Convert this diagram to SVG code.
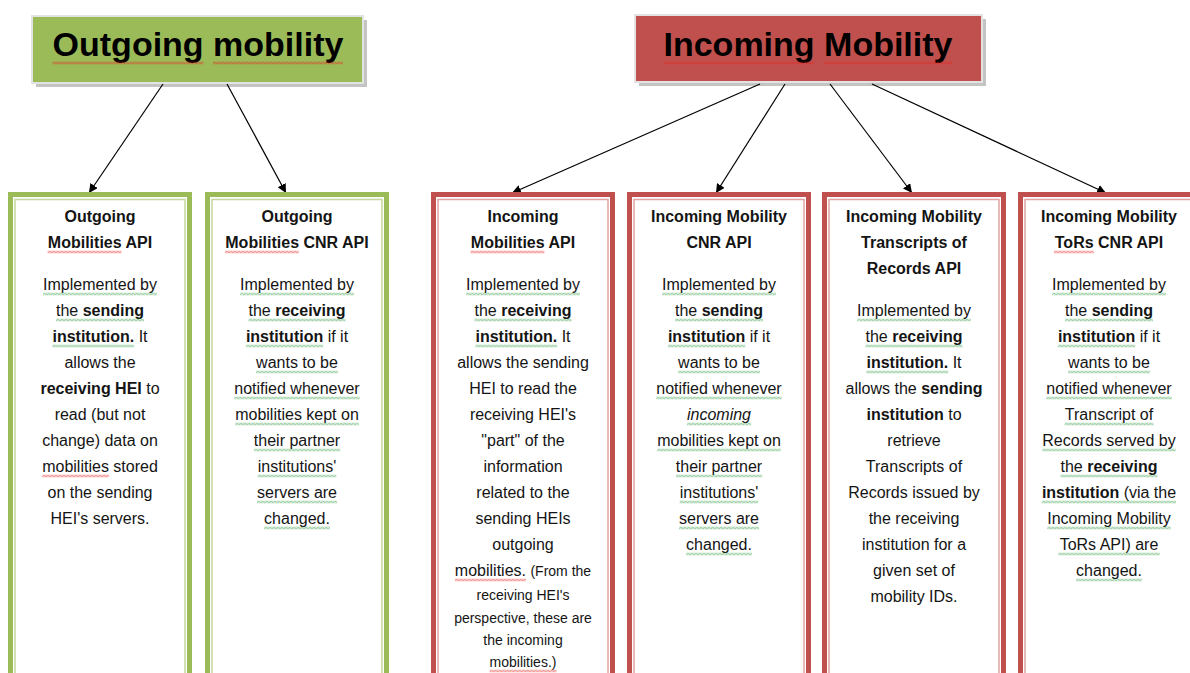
<svg xmlns="http://www.w3.org/2000/svg" width="1190" height="673" viewBox="0 0 1190 673">
<style>
.t{font-family:"Liberation Sans",Arial,sans-serif;font-size:16px;fill:#141414;text-anchor:middle}
.b{font-weight:bold}
.i{font-style:italic}
.s{font-size:14px}
.h{font-family:"Liberation Sans",Arial,sans-serif;font-size:34px;font-weight:bold;fill:#000;text-anchor:middle}
.go{fill:none;stroke:#9bbb59;stroke-width:5}
.gi{fill:none;stroke:#c3d69b;stroke-width:1.5}
.ro{fill:none;stroke:#c0504d;stroke-width:5}
.ri{fill:none;stroke:#e0a3a1;stroke-width:1.5}
.c{stroke:#000;stroke-width:1.2;fill:none;marker-end:url(#ah)}
.zr{fill:url(#pr)}
.zg{fill:url(#pg)}
</style>
<defs>
<marker id="ah" viewBox="0 0 10 10" refX="10" refY="5" markerWidth="9" markerHeight="9" markerUnits="userSpaceOnUse" orient="auto">
<path d="M0,0 L10,5 L0,10 z" fill="#000"/>
</marker>
<pattern id="pr" width="4" height="3" patternUnits="userSpaceOnUse">
<path d="M0,2.4 L2,0.6 L4,2.4" fill="none" stroke="#e8221e" stroke-width="0.9"/>
</pattern>
<pattern id="pg" width="4" height="3" patternUnits="userSpaceOnUse">
<path d="M0,2.4 L2,0.6 L4,2.4" fill="none" stroke="#3aa04a" stroke-width="0.9"/>
</pattern>
</defs>
<rect width="1190" height="673" fill="#fff"/>

<g id="hdr-outgoing">
<rect x="36" y="20" width="331" height="67" fill="#c4c4c4"/>
<rect x="32" y="16" width="331" height="67" fill="#9bbb59" stroke="#e3e3e3" stroke-width="2"/>
<text class="h" x="198" y="56">Outgoing mobility</text>
<rect class="zr" transform="translate(52.5,61.5)" width="151" height="3"/>
<rect class="zr" transform="translate(213,61.5)" width="130" height="3"/>
</g>
<g id="hdr-incoming">
<rect x="639" y="19" width="347" height="67" fill="#c4c4c4"/>
<rect x="635" y="15" width="347" height="67" fill="#c0504d" stroke="#e3e3e3" stroke-width="2"/>
<text class="h" x="808" y="56">Incoming Mobility</text>
<rect class="zr" transform="translate(663.5,61.5)" width="151" height="3"/>
<rect class="zr" transform="translate(824,61.5)" width="128" height="3"/>
</g>

<g id="connectors">
<line class="c" x1="163" y1="84" x2="89" y2="193"/>
<line class="c" x1="227" y1="84" x2="286" y2="193"/>
<line class="c" x1="760" y1="84" x2="512" y2="193"/>
<line class="c" x1="785" y1="84" x2="716" y2="193"/>
<line class="c" x1="830" y1="84" x2="912" y2="193"/>
<line class="c" x1="872" y1="84" x2="1106" y2="193"/>
</g>

<g id="box-outgoing-mobilities">
<rect class="go" x="10.5" y="194.5" width="179" height="600"/>
<rect class="gi" x="15" y="199.5" width="170" height="600"/>
<text class="t b" x="100" y="222">Outgoing</text>
<text class="t b" x="100" y="248">Mobilities API</text>
<text class="t" x="100" y="290">Implemented by</text>
<text class="t" x="100" y="316">the <tspan class="b">sending</tspan></text>
<text class="t" x="100" y="342"><tspan class="b">institution.</tspan> It</text>
<text class="t" x="100" y="368">allows the</text>
<text class="t" x="100" y="394"><tspan class="b">receiving HEI</tspan> to</text>
<text class="t" x="100" y="420">read (but not</text>
<text class="t" x="100" y="446">change) data on</text>
<text class="t" x="100" y="472">mobilities stored</text>
<text class="t" x="100" y="498">on the sending</text>
<text class="t" x="100" y="524">HEI's servers.</text>
<rect class="zr" transform="translate(47.6,250.5)" width="73.8" height="3"/>
<rect class="zg" transform="translate(43.1,292.5)" width="113.8" height="3"/>
<rect class="zg" transform="translate(56,318.5)" width="88" height="3"/>
<rect class="zg" transform="translate(52.4,344.5)" width="81.8" height="3"/>
<rect class="zr" transform="translate(42.2,474.5)" width="66.7" height="3"/>
</g>

<g id="box-outgoing-cnr">
<rect class="go" x="207.5" y="194.5" width="179" height="600"/>
<rect class="gi" x="212" y="199.5" width="170" height="600"/>
<text class="t b" x="297" y="222">Outgoing</text>
<text class="t b" x="297" y="248">Mobilities CNR API</text>
<text class="t" x="297" y="290">Implemented by</text>
<text class="t" x="297" y="316">the <tspan class="b">receiving</tspan></text>
<text class="t" x="297" y="342"><tspan class="b">institution</tspan> if it</text>
<text class="t" x="297" y="368">wants to be</text>
<text class="t" x="297" y="394">notified whenever</text>
<text class="t" x="297" y="420">mobilities kept on</text>
<text class="t" x="297" y="446">their partner</text>
<text class="t" x="297" y="472">institutions'</text>
<text class="t" x="297" y="498">servers are</text>
<text class="t" x="297" y="524">changed.</text>
<rect class="zr" transform="translate(225,250.5)" width="73.8" height="3"/>
<rect class="zg" transform="translate(240.1,292.5)" width="113.8" height="3"/>
<rect class="zg" transform="translate(248.5,318.5)" width="97" height="3"/>
<rect class="zg" transform="translate(245.9,344.5)" width="77.3" height="3"/>
<rect class="zg" transform="translate(256.1,370.5)" width="81.8" height="3"/>
<rect class="zg" transform="translate(234.3,396.5)" width="125.4" height="3"/>
<rect class="zg" transform="translate(235.2,422.5)" width="123.6" height="3"/>
<rect class="zg" transform="translate(253.9,448.5)" width="86.3" height="3"/>
<rect class="zg" transform="translate(257.7,474.5)" width="78.6" height="3"/>
<rect class="zg" transform="translate(257,500.5)" width="80" height="3"/>
<rect class="zg" transform="translate(264.1,526.5)" width="65.8" height="3"/>
</g>

<g id="box-incoming-mobilities">
<rect class="ro" x="433.5" y="194.5" width="179" height="600"/>
<rect class="ri" x="438" y="199.5" width="170" height="600"/>
<text class="t b" x="523" y="222">Incoming</text>
<text class="t b" x="523" y="248">Mobilities API</text>
<text class="t" x="523" y="290">Implemented by</text>
<text class="t" x="523" y="316">the <tspan class="b">receiving</tspan></text>
<text class="t" x="523" y="342"><tspan class="b">institution.</tspan> It</text>
<text class="t" x="523" y="368">allows the sending</text>
<text class="t" x="523" y="394">HEI to read the</text>
<text class="t" x="523" y="420">receiving HEI's</text>
<text class="t" x="523" y="446">"part" of the</text>
<text class="t" x="523" y="472">information</text>
<text class="t" x="523" y="498">related to the</text>
<text class="t" x="523" y="524">sending HEIs</text>
<text class="t" x="523" y="550">outgoing</text>
<text class="t" x="523" y="576">mobilities. <tspan class="s">(From the</tspan></text>
<text class="t s" x="523" y="600">receiving HEI's</text>
<text class="t s" x="523" y="623">perspective, these are</text>
<text class="t s" x="523" y="645">the incoming</text>
<text class="t s" x="523" y="667">mobilities.)</text>
<rect class="zr" transform="translate(470.6,250.5)" width="73.8" height="3"/>
<rect class="zg" transform="translate(466.1,292.5)" width="113.8" height="3"/>
<rect class="zg" transform="translate(474.5,318.5)" width="97" height="3"/>
<rect class="zg" transform="translate(475.4,344.5)" width="81.8" height="3"/>
<rect class="zr" transform="translate(454.9,578.5)" width="71.1" height="3"/>
<rect class="zr" transform="translate(489.6,669.5)" width="66.9" height="3"/>
</g>

<g id="box-incoming-cnr">
<rect class="ro" x="629.5" y="194.5" width="179" height="600"/>
<rect class="ri" x="634" y="199.5" width="170" height="600"/>
<text class="t b" x="719" y="222">Incoming Mobility</text>
<text class="t b" x="719" y="248">CNR API</text>
<text class="t" x="719" y="290">Implemented by</text>
<text class="t" x="719" y="316">the <tspan class="b">sending</tspan></text>
<text class="t" x="719" y="342"><tspan class="b">institution</tspan> if it</text>
<text class="t" x="719" y="368">wants to be</text>
<text class="t" x="719" y="394">notified whenever</text>
<text class="t i" x="719" y="420">incoming</text>
<text class="t" x="719" y="446">mobilities kept on</text>
<text class="t" x="719" y="472">their partner</text>
<text class="t" x="719" y="498">institutions'</text>
<text class="t" x="719" y="524">servers are</text>
<text class="t" x="719" y="550">changed.</text>
<rect class="zg" transform="translate(662.1,292.5)" width="113.8" height="3"/>
<rect class="zg" transform="translate(675,318.5)" width="88" height="3"/>
<rect class="zg" transform="translate(667.9,344.5)" width="77.3" height="3"/>
<rect class="zg" transform="translate(678.1,370.5)" width="81.8" height="3"/>
<rect class="zg" transform="translate(656.3,396.5)" width="125.4" height="3"/>
<rect class="zg" transform="translate(687,422.5)" width="64" height="3"/>
<rect class="zg" transform="translate(657.2,448.5)" width="123.6" height="3"/>
<rect class="zg" transform="translate(675.9,474.5)" width="86.3" height="3"/>
<rect class="zg" transform="translate(679.7,500.5)" width="78.6" height="3"/>
<rect class="zg" transform="translate(679,526.5)" width="80" height="3"/>
<rect class="zg" transform="translate(686.1,552.5)" width="65.8" height="3"/>
</g>

<g id="box-incoming-tor">
<rect class="ro" x="824.5" y="194.5" width="179" height="600"/>
<rect class="ri" x="829" y="199.5" width="170" height="600"/>
<text class="t b" x="914" y="222">Incoming Mobility</text>
<text class="t b" x="914" y="248">Transcripts of</text>
<text class="t b" x="914" y="274">Records API</text>
<text class="t" x="914" y="316">Implemented by</text>
<text class="t" x="914" y="342">the <tspan class="b">receiving</tspan></text>
<text class="t" x="914" y="368"><tspan class="b">institution.</tspan> It</text>
<text class="t" x="914" y="394">allows the <tspan class="b">sending</tspan></text>
<text class="t" x="914" y="420"><tspan class="b">institution</tspan> to</text>
<text class="t" x="914" y="446">retrieve</text>
<text class="t" x="914" y="472">Transcripts of</text>
<text class="t" x="914" y="498">Records issued by</text>
<text class="t" x="914" y="524">the receiving</text>
<text class="t" x="914" y="550">institution for a</text>
<text class="t" x="914" y="576">given set of</text>
<text class="t" x="914" y="602">mobility IDs.</text>
<rect class="zg" transform="translate(857.1,318.5)" width="113.8" height="3"/>
<rect class="zg" transform="translate(865.5,344.5)" width="97" height="3"/>
<rect class="zg" transform="translate(866.4,370.5)" width="81.8" height="3"/>
</g>

<g id="box-incoming-tor-cnr">
<rect class="ro" x="1020.5" y="194.5" width="179" height="600"/>
<rect class="ri" x="1025" y="199.5" width="170" height="600"/>
<text class="t b" x="1109" y="222">Incoming Mobility</text>
<text class="t b" x="1109" y="248">ToRs CNR API</text>
<text class="t" x="1109" y="290">Implemented by</text>
<text class="t" x="1109" y="316">the <tspan class="b">sending</tspan></text>
<text class="t" x="1109" y="342"><tspan class="b">institution</tspan> if it</text>
<text class="t" x="1109" y="368">wants to be</text>
<text class="t" x="1109" y="394">notified whenever</text>
<text class="t" x="1109" y="420">Transcript of</text>
<text class="t" x="1109" y="446">Records served by</text>
<text class="t" x="1109" y="472">the <tspan class="b">receiving</tspan></text>
<text class="t" x="1109" y="498"><tspan class="b">institution</tspan> (via the</text>
<text class="t" x="1109" y="524">Incoming Mobility</text>
<text class="t" x="1109" y="550">ToRs API) are</text>
<text class="t" x="1109" y="576">changed.</text>
<rect class="zr" transform="translate(1053.9,250.5)" width="40" height="3"/>
<rect class="zg" transform="translate(1052.1,292.5)" width="113.8" height="3"/>
<rect class="zg" transform="translate(1065,318.5)" width="88" height="3"/>
<rect class="zg" transform="translate(1057.9,344.5)" width="77.3" height="3"/>
<rect class="zg" transform="translate(1068.1,370.5)" width="81.8" height="3"/>
<rect class="zg" transform="translate(1046.3,396.5)" width="125.4" height="3"/>
<rect class="zg" transform="translate(1064.6,422.5)" width="88.9" height="3"/>
<rect class="zg" transform="translate(1042.3,448.5)" width="133.4" height="3"/>
<rect class="zg" transform="translate(1060.5,474.5)" width="97" height="3"/>
<rect class="zg" transform="translate(1041.9,500.5)" width="134.2" height="3"/>
<rect class="zg" transform="translate(1047.2,526.5)" width="123.6" height="3"/>
<rect class="zg" transform="translate(1058.3,552.5)" width="101.4" height="3"/>
<rect class="zg" transform="translate(1076.1,578.5)" width="65.8" height="3"/>
</g>
</svg>
